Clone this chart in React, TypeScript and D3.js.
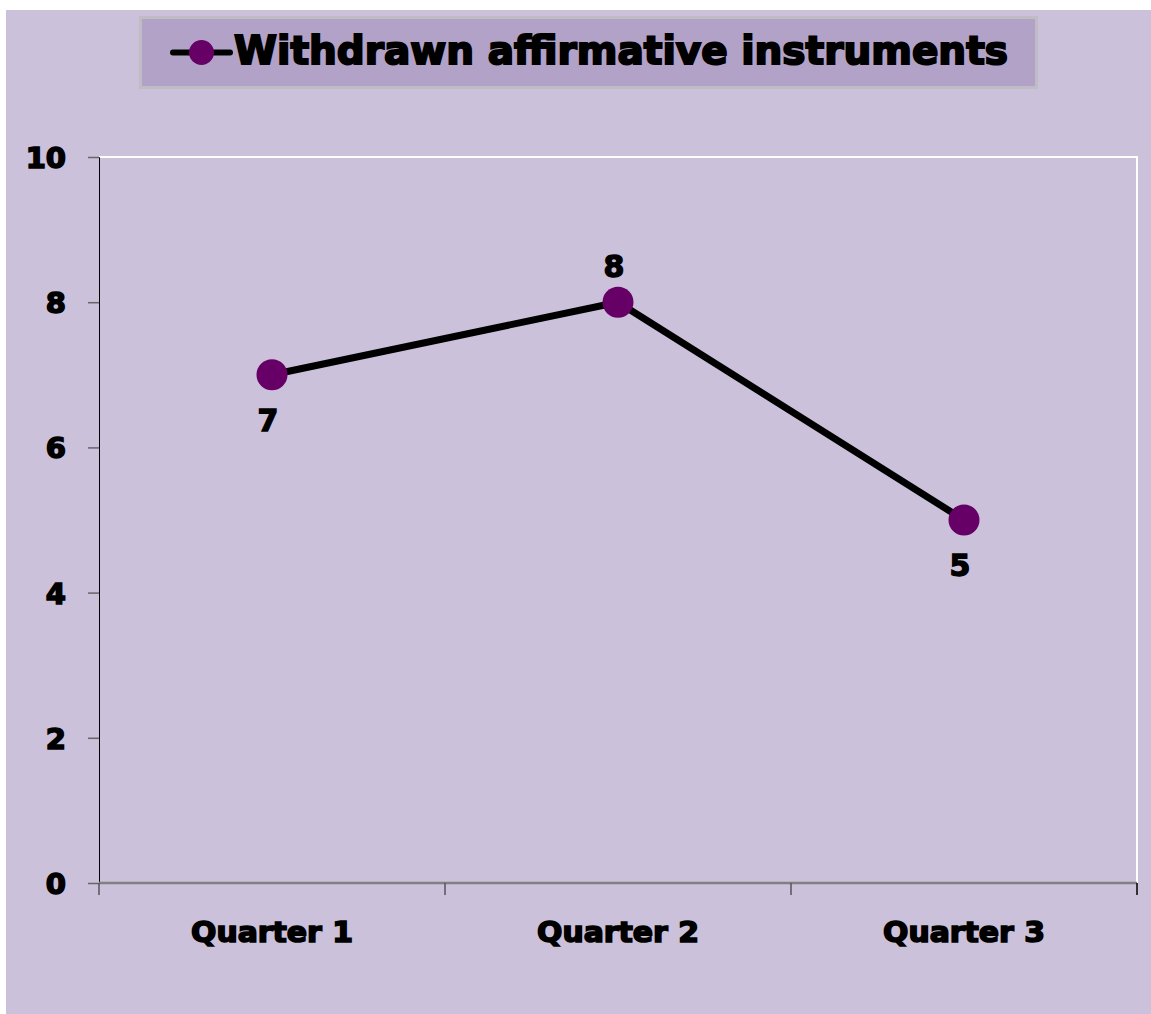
import { useEffect, useRef } from "react";
import * as d3 from "d3";

const categories = ["Quarter 1", "Quarter 2", "Quarter 3"];
const values = [7, 8, 5];
const yTicks = [0, 2, 4, 6, 8, 10];
const seriesName = "Withdrawn affirmative instruments";
// label position relative to the point: below or above
const labelSide = ["below", "above", "below"];

const BG = "#cbc1db";
const LEGEND_BG = "#b3a2c8";
const MARKER = "#660066";
const FONT = "'DejaVu Sans', 'Liberation Sans', sans-serif";

export default function App() {
  const ref = useRef<SVGSVGElement>(null);

  useEffect(() => {
    if (!ref.current) return;
    const svg = d3.select(ref.current);
    svg.selectAll("*").remove();

    const W = 1151;
    const H = 1014;
    const m = { top: 157, right: 14, bottom: 131, left: 99 };
    const w = W - m.left - m.right;
    const h = H - m.top - m.bottom;

    svg.attr("width", W).attr("height", H);

    // chart background
    svg
      .append("rect")
      .attr("x", 6)
      .attr("y", 10)
      .attr("width", W - 6)
      .attr("height", H - 10)
      .attr("fill", BG);

    const x = d3.scaleBand().domain(categories).range([0, w]);
    const y = d3.scaleLinear().domain([0, 10]).range([h, 0]);

    const g = svg
      .append("g")
      .attr("transform", `translate(${m.left},${m.top})`);

    // plot border (top + right, white)
    g.append("path")
      .attr("d", `M0,0H${w}V${h}`)
      .attr("fill", "none")
      .attr("stroke", "#ffffff")
      .attr("stroke-width", 2);

    // y axis
    g.append("g")
      .call(
        d3
          .axisLeft(y)
          .tickValues(yTicks)
          .tickSize(11)
          .tickPadding(22)
          .tickFormat(d3.format("d"))
      )
      .call((a) => {
        a.select(".domain").attr("stroke", "#000").attr("stroke-width", 1);
        a.selectAll(".tick line").attr("stroke", "#666").attr("stroke-width", 1.5);
        a.selectAll("text")
          .attr("font-family", FONT)
          .attr("font-weight", "bold")
          .attr("font-size", 29)
          .attr("fill", "#000")
          .attr("stroke", "#000")
          .attr("stroke-width", 1.6)
          .attr("dy", "0.36em");
      });

    // x axis
    const xa = g.append("g").attr("transform", `translate(0,${h})`);
    xa.append("line")
      .attr("x1", 0)
      .attr("x2", w)
      .attr("stroke", "#808080")
      .attr("stroke-width", 2.5);
    const bounds = [0, ...categories.map((c) => (x(c) ?? 0) + x.bandwidth())];
    xa.selectAll(".xtick")
      .data(bounds)
      .join("line")
      .attr("x1", (d) => d)
      .attr("x2", (d) => d)
      .attr("y1", 0)
      .attr("y2", 12)
      .attr("stroke", (d, i) => (i === bounds.length - 1 ? "#000" : "#555"))
      .attr("stroke-width", 1.5);
    xa.selectAll(".xlabel")
      .data(categories)
      .join("text")
      .attr("x", (d) => (x(d) ?? 0) + x.bandwidth() / 2)
      .attr("y", 59)
      .attr("text-anchor", "middle")
      .attr("font-family", FONT)
      .attr("font-weight", "bold")
      .attr("font-size", 28)
      .attr("fill", "#000")
      .attr("stroke", "#000")
      .attr("stroke-width", 1.6)
      .attr("textLength", 162)
      .attr("lengthAdjust", "spacingAndGlyphs")
      .text((d) => d);

    // line
    const cx = (c: string) => (x(c) ?? 0) + x.bandwidth() / 2;
    const line = d3
      .line<number>()
      .x((_, i) => cx(categories[i]))
      .y((d) => y(d));

    g.append("path")
      .datum(values)
      .attr("fill", "none")
      .attr("stroke", "#000")
      .attr("stroke-width", 7)
      .attr("stroke-linejoin", "round")
      .attr("d", line);

    g.selectAll(".pt")
      .data(values)
      .join("circle")
      .attr("cx", (_, i) => cx(categories[i]))
      .attr("cy", (d) => y(d))
      .attr("r", 15.5)
      .attr("fill", MARKER);

    // data labels
    g.selectAll(".lbl")
      .data(values)
      .join("text")
      .attr("x", (_, i) => cx(categories[i]) - 4)
      .attr("y", (d, i) => y(d) + (labelSide[i] === "above" ? -25 : 56))
      .attr("text-anchor", "middle")
      .attr("font-family", FONT)
      .attr("font-weight", "bold")
      .attr("font-size", 30)
      .attr("fill", "#000")
      .attr("stroke", "#000")
      .attr("stroke-width", 1.4)
      .text((d) => d);

    // legend
    const leg = svg.append("g");
    leg
      .append("rect")
      .attr("x", 140.5)
      .attr("y", 17.5)
      .attr("width", 896)
      .attr("height", 70)
      .attr("fill", LEGEND_BG)
      .attr("stroke", "#c0bcc4")
      .attr("stroke-width", 3);
    leg
      .append("line")
      .attr("x1", 173)
      .attr("x2", 230)
      .attr("y1", 52.5)
      .attr("y2", 52.5)
      .attr("stroke", "#000")
      .attr("stroke-width", 6)
      .attr("stroke-linecap", "round");
    leg
      .append("circle")
      .attr("cx", 201.5)
      .attr("cy", 52.5)
      .attr("r", 12.5)
      .attr("fill", MARKER);
    leg
      .append("text")
      .attr("x", 234)
      .attr("y", 64)
      .attr("font-family", FONT)
      .attr("font-weight", "bold")
      .attr("font-size", 39)
      .attr("fill", "#000")
      .attr("stroke", "#000")
      .attr("stroke-width", 2)
      .attr("textLength", 774)
      .attr("lengthAdjust", "spacingAndGlyphs")
      .text(seriesName);
  }, []);

  return (
    <div style={{ position: "absolute", left: 0, top: 0 }}>
      <svg ref={ref} style={{ display: "block" }} />
    </div>
  );
}
